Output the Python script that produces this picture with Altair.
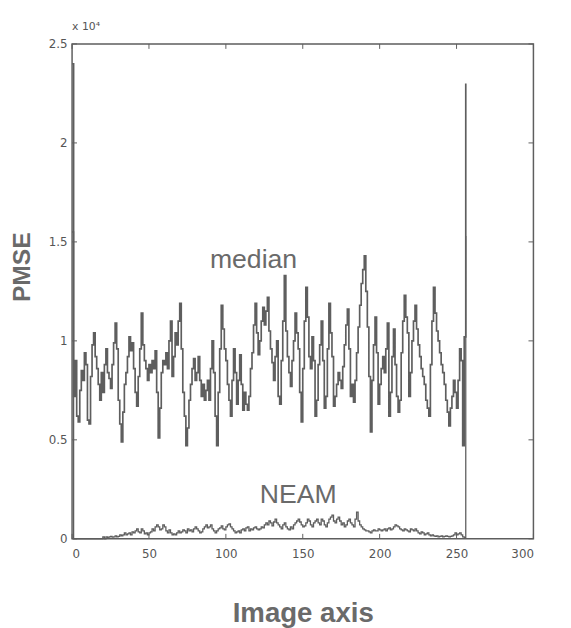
import altair as alt
import pandas as pd

# values in units of 10^4
median_vals = [
    2.40, 0.72, 0.90, 0.62, 0.59, 0.75, 0.85, 0.80, 0.94, 0.88,
    0.60, 0.58, 0.82, 0.98, 1.04, 0.92, 0.86, 0.78, 0.70, 0.84,
    0.74, 0.88, 0.96, 0.84, 0.81, 0.76, 0.88, 0.99, 1.09, 0.96,
    0.70, 0.58, 0.49, 0.64, 0.78, 0.84, 0.92, 1.02, 0.95, 0.99,
    0.86, 0.74, 0.67, 0.82, 0.96, 1.14, 0.98, 0.90, 0.86, 0.80,
    0.88, 0.84, 0.90, 0.86, 0.95, 0.74, 0.51, 0.66, 0.84, 0.90,
    0.88, 0.94, 0.86, 1.00, 1.10, 0.82, 0.92, 1.04, 0.98, 1.10,
    1.19, 0.96, 0.74, 0.62, 0.47, 0.56, 0.70, 0.78, 0.86, 0.91,
    0.80, 0.84, 0.92, 0.80, 0.72, 0.78, 0.70, 0.75, 0.80, 0.70,
    0.86, 1.00, 0.84, 0.62, 0.47, 0.74, 0.96, 1.18, 1.06, 0.96,
    0.90, 0.78, 0.70, 0.62, 0.80, 0.96, 0.84, 0.68, 0.80, 0.93,
    0.78, 0.65, 0.74, 0.68, 0.65, 0.72, 0.86, 0.94, 1.08, 1.19,
    1.04, 0.93, 1.00, 1.10, 1.17, 1.08, 1.15, 1.22, 1.05, 0.96,
    0.89, 0.80, 0.92, 1.00, 0.72, 0.68, 0.90, 1.10, 1.33, 1.05,
    0.92, 0.84, 0.77, 0.90, 1.00, 1.14, 1.04, 0.96, 0.74, 0.59,
    0.86, 1.10, 1.27, 1.12, 0.92, 0.86, 1.02, 0.90, 0.62, 0.70,
    0.88, 0.98, 1.10, 0.90, 0.66, 0.72, 0.96, 1.19, 1.04, 0.92,
    0.67, 0.72, 0.78, 0.84, 0.80, 0.76, 0.87, 0.98, 1.08, 1.16,
    0.96, 0.72, 0.78, 0.69, 0.80, 0.94, 1.07, 1.18, 1.29, 1.36,
    1.43, 1.25, 1.07, 0.82, 0.54, 0.80, 0.98, 1.12, 0.94, 0.68,
    0.78, 0.86, 0.92, 0.84, 0.96, 1.09, 0.62, 0.74, 0.92, 1.06,
    0.88, 0.72, 0.64, 0.70, 0.94, 1.10, 1.23, 1.12, 1.04, 0.72,
    0.84, 1.00, 1.10, 1.18, 1.06, 0.98, 0.92, 0.86, 0.82, 0.78,
    0.70, 0.66, 0.62, 0.88, 1.10, 1.27, 1.14, 1.05, 1.00, 0.94,
    0.88, 0.84, 0.78, 0.70, 0.64, 0.57, 0.66, 0.72, 0.80, 0.74,
    0.66, 0.80, 0.96, 0.90, 0.47, 1.02, 2.30,
]

neam_vals = [
    1.55, 0.0, 0.0, 0.0, 0.0, 0.0, 0.0, 0.0, 0.0, 0.0,
    0.0, 0.0, 0.0, 0.0, 0.0, 0.0, 0.0, 0.0, 0.0, 0.0,
    0.01, 0.0, 0.01, 0.005, 0.01, 0.012, 0.008, 0.01, 0.015, 0.01,
    0.012, 0.02, 0.015, 0.02, 0.03, 0.02,
    0.025, 0.03, 0.02, 0.035, 0.03, 0.04, 0.05, 0.035, 0.03, 0.05, 0.04, 0.025, 0.03, 0.02, 0.03,
    0.035, 0.05, 0.04, 0.06, 0.07, 0.06, 0.045, 0.05, 0.07, 0.06, 0.04, 0.03, 0.045, 0.03, 0.02,
    0.025, 0.02, 0.03, 0.04, 0.03, 0.035, 0.045, 0.04, 0.03, 0.05, 0.04, 0.045, 0.035, 0.05, 0.06,
    0.05, 0.04, 0.03, 0.035, 0.05, 0.06, 0.07, 0.055, 0.06, 0.07, 0.05, 0.04, 0.03, 0.04, 0.05,
    0.055, 0.065, 0.05, 0.045, 0.06, 0.07, 0.075, 0.06, 0.05, 0.04, 0.03, 0.035, 0.04, 0.03, 0.045,
    0.05, 0.04, 0.055, 0.06, 0.04, 0.05, 0.045, 0.055, 0.06, 0.05, 0.045, 0.05, 0.06, 0.055, 0.07,
    0.08, 0.07, 0.09, 0.08, 0.065, 0.085, 0.1, 0.08, 0.07, 0.06, 0.05, 0.07, 0.08, 0.06, 0.05,
    0.045, 0.06, 0.05, 0.07, 0.08, 0.09, 0.1, 0.085, 0.07, 0.06, 0.065, 0.08, 0.1, 0.09, 0.07,
    0.06, 0.08, 0.09, 0.1, 0.08, 0.07, 0.1, 0.09, 0.07, 0.06, 0.08, 0.1, 0.11, 0.12, 0.09,
    0.08, 0.1, 0.11, 0.09, 0.07, 0.08, 0.06, 0.07, 0.09, 0.1, 0.08, 0.07, 0.06, 0.1, 0.135,
    0.09, 0.07, 0.06, 0.05, 0.045, 0.04, 0.04, 0.035, 0.03, 0.04, 0.045, 0.04, 0.04, 0.05, 0.045,
    0.04, 0.045, 0.05, 0.04, 0.05, 0.055, 0.045, 0.05, 0.06, 0.07, 0.065, 0.06, 0.05, 0.045, 0.04,
    0.05, 0.045, 0.04, 0.035, 0.05, 0.045, 0.04, 0.05, 0.04, 0.03, 0.025, 0.035, 0.03, 0.02, 0.025,
    0.03, 0.02, 0.015, 0.02, 0.015, 0.012, 0.015, 0.01, 0.012, 0.015, 0.01, 0.012, 0.015, 0.012, 0.01,
    0.012, 0.015, 0.02, 0.03, 0.02, 0.025, 0.03, 0.02, 0.01, 0.005, 1.53,
]

x_ticks = [0, 50, 100, 150, 200, 250, 300]
y_ticks = [0, 0.5, 1, 1.5, 2, 2.5]
labels = pd.DataFrame({"x": [118, 147], "y": [1.41, 0.22], "t": ["median", "NEAM"]})

W, H = 468, 502
GREY = "#5e5e5e"
TXT = "#6a6a6a"

med = pd.DataFrame({"x": list(range(len(median_vals))), "v": median_vals})
nea = pd.DataFrame({"x": list(range(len(neam_vals))), "v": neam_vals})

xs = alt.Scale(domain=[0, 300], nice=False)
ys = alt.Scale(domain=[0, 2.5], nice=False)

xaxis = alt.Axis(values=x_ticks, title="Image axis", tickSize=0, domain=False, grid=False,
                 format="d",
                 labelFont="DejaVu Sans", labelFontSize=12, labelColor="#555", labelPadding=10,
                 titleFont="Liberation Sans", titleFontSize=28, titleFontWeight="bold",
                 titleColor=TXT, titleY=84, titleBaseline="alphabetic")
yaxis = alt.Axis(values=y_ticks, title="PMSE", tickSize=0, domain=False, grid=False,
                 format="~g",
                 labelFont="DejaVu Sans", labelFontSize=12, labelColor="#555", labelPadding=5,
                 titleFont="Liberation Sans", titleFontSize=25, titleFontWeight="bold",
                 titleColor=TXT, titleX=-51, titleY=226, titleBaseline="middle", titleAngle=-90)

base_med = alt.Chart(med).mark_line(color=GREY, strokeWidth=1.7, interpolate="step-after").encode(
    x=alt.X("x:Q", scale=xs, axis=xaxis),
    y=alt.Y("v:Q", scale=ys, axis=yaxis),
)
base_neam = alt.Chart(nea).mark_line(color=GREY, strokeWidth=1.3, interpolate="step-after").encode(
    x=alt.X("x:Q", scale=xs),
    y=alt.Y("v:Q", scale=ys),
)

xt = pd.DataFrame({"t": x_ticks})
yt = pd.DataFrame({"t": y_ticks})
tick_b = alt.Chart(xt).mark_rule(color=GREY, strokeWidth=1).encode(
    x=alt.X("t:Q", scale=xs), y=alt.value(H), y2=alt.value(H - 5))
tick_t = alt.Chart(xt).mark_rule(color=GREY, strokeWidth=1).encode(
    x=alt.X("t:Q", scale=xs), y=alt.value(0), y2=alt.value(5))
tick_l = alt.Chart(yt).mark_rule(color=GREY, strokeWidth=1).encode(
    y=alt.Y("t:Q", scale=ys), x=alt.value(0), x2=alt.value(5))
tick_r = alt.Chart(yt).mark_rule(color=GREY, strokeWidth=1).encode(
    y=alt.Y("t:Q", scale=ys), x=alt.value(W), x2=alt.value(W - 5))

txt = alt.Chart(labels).mark_text(font="Liberation Sans", fontSize=27, color=TXT,
                                  baseline="middle", align="center").encode(
    x=alt.X("x:Q", scale=xs), y=alt.Y("y:Q", scale=ys), text="t:N")

exp = alt.Chart(pd.DataFrame({"t": ["x 10\u2074"]})).mark_text(
    font="DejaVu Sans", fontSize=11, color="#555", align="left", baseline="middle").encode(
    x=alt.value(0), y=alt.value(-17), text="t:N")

chart = alt.layer(base_med, base_neam, tick_b, tick_t, tick_l, tick_r, txt, exp).properties(
    width=W, height=H,
    autosize=alt.AutoSizeParams(type="none"),
    padding={"left": 65, "top": 32, "right": 30, "bottom": 86},
).configure(
    background="white",
    view=alt.ViewConfig(stroke=GREY, strokeWidth=1.5),
)

chart.save("out.html", embed_options={"renderer": "svg", "actions": False})
